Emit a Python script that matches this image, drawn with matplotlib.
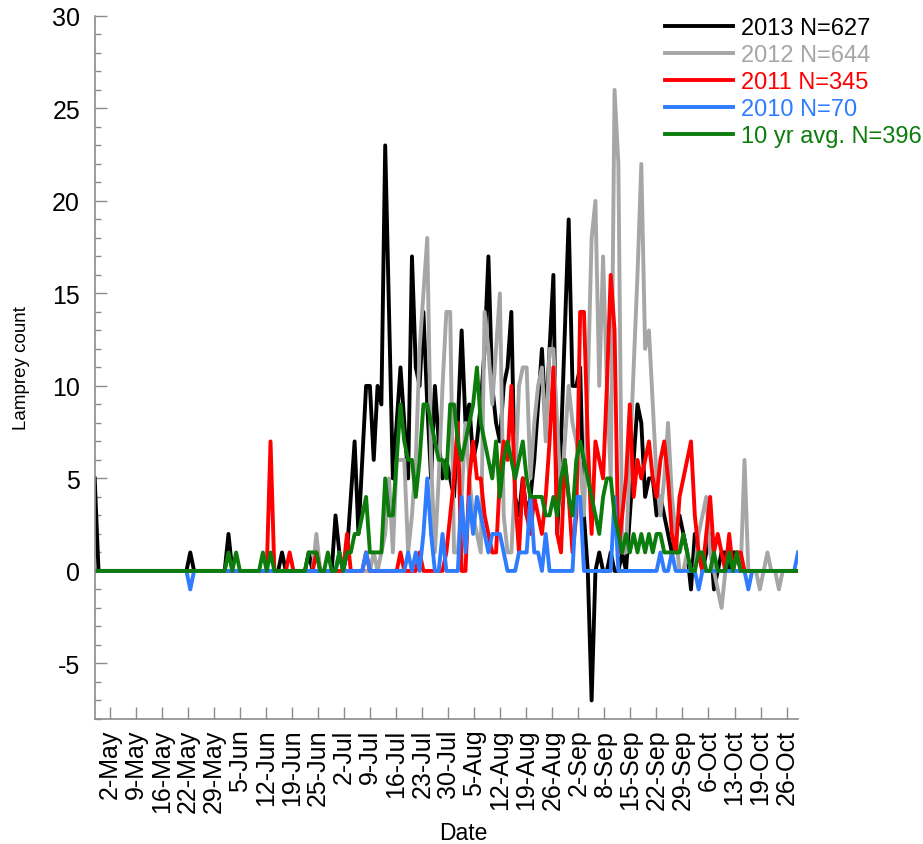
import numpy as np
import matplotlib.pyplot as plt
from matplotlib.ticker import MultipleLocator

plt.rcParams['font.family'] = ['Liberation Sans', 'DejaVu Sans']
plt.rcParams['axes.unicode_minus'] = False

# daily lamprey counts, one value per day starting 28 April
count_2013 = [
    5, 0, 0, 0, 0, 0, 0, 0, 0, 0,
    0, 0, 0, 0, 0, 0, 0, 0, 0, 0,
    0, 0, 0, 0, 0, 1, 0, 0, 0, 0,
    0, 0, 0, 0, 0, 2, 0, 0, 0, 0,
    0, 0, 0, 0, 0, 0, 0, 0, 0, 1,
    0, 0, 0, 0, 0, 0, 1, 0, 0, 0,
    0, 0, 0, 3, 1, 0, 1, 4, 7, 2,
    6, 10, 10, 6, 10, 9, 23, 14, 5, 8,
    11, 8, 5, 17, 11, 10, 14, 9, 5, 10,
    7, 5, 6, 5, 4, 8, 13, 8, 9, 6,
    7, 9, 12, 17, 10, 8, 7, 10, 11, 14,
    4, 3, 5, 3, 4, 6, 9, 12, 8, 12,
    16, 2, 7, 13, 19, 10, 10, 11, 3, 0,
    -7, 0, 1, 0, 0, 1, 0, 0, 1, 0,
    3, 6, 9, 8, 4, 5, 5, 3, 4, 3,
    2, 1, 2, 3, 2, 1, -1, 2, 1, 0,
    1, 2, -1, 0, 1, 1, 0, 1, 1, 0,
    0, 0, 0, 0, 0, 0, 0, 0, 0, 0,
    0, 0, 0, 0, 0]

count_2012 = [
    0, 0, 0, 0, 0, 0, 0, 0, 0, 0,
    0, 0, 0, 0, 0, 0, 0, 0, 0, 0,
    0, 0, 0, 0, 0, 0, 0, 0, 0, 0,
    0, 0, 0, 0, 0, 0, 0, 0, 0, 0,
    0, 0, 0, 0, 0, 0, 0, 0, 0, 0,
    0, 0, 0, 0, 0, 0, 0, 0, 2, 0,
    0, 0, 0, 0, 0, 0, 0, 0, 0, 0,
    0, 0, 0, 1, 0, 1, 2, 5, 1, 6,
    6, 6, 1, 3, 6, 12, 15, 18, 6, 1,
    5, 10, 14, 14, 1, 1, 4, 8, 5, 3,
    2, 1, 14, 12, 9, 12, 15, 3, 1, 1,
    5, 10, 11, 11, 5, 8, 10, 11, 7, 12,
    12, 8, 4, 7, 10, 8, 7, 6, 3, 10,
    18, 20, 10, 17, 10, 5, 26, 22, 1, 1,
    6, 11, 16, 22, 12, 13, 9, 5, 3, 5,
    8, 4, 2, 0, 0, 1, 0, 0, 2, 3,
    4, 1, 0, -1, -2, 0, 0, 0, 0, 0,
    6, 0, 0, 0, -1, 0, 1, 0, 0, -1,
    0, 0, 0, 0, 0]

count_2011 = [
    0, 0, 0, 0, 0, 0, 0, 0, 0, 0,
    0, 0, 0, 0, 0, 0, 0, 0, 0, 0,
    0, 0, 0, 0, 0, 0, 0, 0, 0, 0,
    0, 0, 0, 0, 0, 0, 0, 0, 0, 0,
    0, 0, 0, 0, 0, 0, 7, 0, 0, 0,
    0, 1, 0, 0, 0, 0, 0, 0, 1, 0,
    0, 0, 0, 0, 0, 0, 2, 0, 0, 0,
    0, 1, 0, 0, 0, 0, 0, 0, 0, 0,
    1, 0, 0, 0, 0, 1, 0, 0, 0, 0,
    0, 0, 1, 3, 5, 8, 0, 0, 5, 7,
    5, 5, 3, 2, 1, 1, 5, 7, 6, 10,
    4, 1, 5, 3, 2, 4, 3, 2, 4, 7,
    11, 2, 1, 6, 4, 1, 3, 14, 14, 7,
    2, 7, 6, 5, 10, 16, 13, 1, 3, 5,
    9, 4, 6, 5, 6, 7, 5, 4, 6, 7,
    5, 2, 1, 4, 5, 6, 7, 3, 1, 0,
    2, 4, 1, 2, 1, 0, 2, 0, 1, 1,
    0, 0, 0, 0, 0, 0, 0, 0, 0, 0,
    0, 0, 0, 0, 0]

count_2010 = [
    0, 0, 0, 0, 0, 0, 0, 0, 0, 0,
    0, 0, 0, 0, 0, 0, 0, 0, 0, 0,
    0, 0, 0, 0, 0, -1, 0, 0, 0, 0,
    0, 0, 0, 0, 0, 0, 0, 0, 0, 0,
    0, 0, 0, 0, 0, 0, 0, 0, 0, 0,
    0, 0, 0, 0, 0, 0, 0, 0, 0, 0,
    0, 0, 0, 0, 1, 0, 0, 0, 0, 0,
    0, 1, 0, 0, 0, 0, 0, 0, 0, 0,
    0, 0, 1, 0, 1, 0, 2, 5, 2, 0,
    0, 2, 0, 0, 0, 0, 4, 1, 4, 2,
    4, 3, 2, 1, 2, 2, 2, 1, 0, 0,
    0, 1, 1, 1, 4, 1, 1, 0, 2, 0,
    0, 0, 0, 0, 0, 0, 4, 4, 0, 0,
    0, 0, 0, 0, 0, 0, 4, 0, 0, 0,
    0, 0, 0, 0, 0, 0, 0, 0, 1, 0,
    0, 1, 0, 0, 0, 0, 0, 0, -1, 0,
    0, 0, 0, 0, 0, 0, 0, 0, 0, 0,
    0, -1, 0, 0, 0, 0, 0, 0, 0, 0,
    0, 0, 0, 0, 1]

count_avg = [
    0, 0, 0, 0, 0, 0, 0, 0, 0, 0,
    0, 0, 0, 0, 0, 0, 0, 0, 0, 0,
    0, 0, 0, 0, 0, 0, 0, 0, 0, 0,
    0, 0, 0, 0, 0, 1, 0, 1, 0, 0,
    0, 0, 0, 0, 1, 0, 1, 0, 0, 0,
    0, 0, 0, 0, 0, 0, 1, 1, 1, 0,
    0, 1, 0, 0, 1, 0, 1, 1, 2, 2,
    3, 4, 1, 1, 1, 1, 5, 3, 3, 6,
    9, 7, 6, 6, 4, 6, 9, 9, 8, 7,
    6, 6, 5, 9, 9, 7, 6, 7, 8, 9,
    11, 8, 7, 6, 5, 7, 4, 6, 7, 6,
    5, 6, 7, 5, 4, 4, 4, 4, 3, 3,
    4, 3, 5, 6, 4, 3, 6, 7, 6, 5,
    4, 3, 2, 4, 5, 5, 3, 2, 1, 2,
    1, 2, 1, 2, 1, 2, 1, 2, 2, 1,
    1, 1, 1, 1, 2, 1, 0, 0, 1, 1,
    0, 0, 1, 0, 0, 0, 1, 0, 1, 0,
    0, 0, 0, 0, 0, 0, 0, 0, 0, 0,
    0, 0, 0, 0, 0]

date_labels = ['2-May', '9-May', '16-May', '22-May', '29-May', '5-Jun', '12-Jun',
               '19-Jun', '25-Jun', '2-Jul', '9-Jul', '16-Jul', '23-Jul', '30-Jul',
               '5-Aug', '12-Aug', '19-Aug', '26-Aug', '2-Sep', '8-Sep', '15-Sep',
               '22-Sep', '29-Sep', '6-Oct', '13-Oct', '19-Oct', '26-Oct']

series_names = ['2013 N=627', '2012 N=644', '2011 N=345', '2010 N=70', '10 yr avg. N=396']
series_colors = ['#000000', '#a6a6a6', '#ff0000', '#2f7cff', '#0c7c0c']

series = [count_2013, count_2012, count_2011, count_2010, count_avg]
days = np.arange(len(count_2013))

fig = plt.figure(figsize=(9.23, 8.45), dpi=100)
ax = fig.add_axes([0.1026, 0.148, 0.762, 0.832])

for vals, name, col in zip(series, series_names, series_colors):
    ax.plot(days, vals, color=col, lw=2.8, label=name)

ax.set_xlim(0, days[-1])
ax.set_ylim(-8, 30)

# tick marks sit at equal steps between 2 May and 26 Oct
ax.set_xticks(np.linspace(4, 181, len(date_labels)))
ax.set_xticklabels(date_labels, rotation=90)
ax.yaxis.set_major_locator(MultipleLocator(5))
ax.yaxis.set_minor_locator(MultipleLocator(1))

for side in ['top', 'right']:
    ax.spines[side].set_visible(False)
for side in ['left', 'bottom']:
    ax.spines[side].set_color('#8c8c8c')
    ax.spines[side].set_linewidth(1.2)

ax.tick_params(axis='both', which='major', direction='in', length=8.5, width=1,
               color='#8c8c8c', labelsize=18)
ax.tick_params(axis='y', which='major', pad=10.5)
ax.tick_params(axis='x', which='major', pad=7)
ax.tick_params(axis='y', which='minor', direction='in', length=4.3, width=1,
               color='#8c8c8c')

ax.set_ylabel('Lamprey count', fontsize=13.5)
ax.yaxis.set_label_coords(-0.092, 0.5)
ax.set_xlabel('Date', fontsize=16.5)
ax.xaxis.set_label_coords(0.524, -0.145)

ax.legend(loc='upper left', bbox_to_anchor=(665 / 923, 1 - 18 / 845),
          bbox_transform=fig.transFigure, frameon=False, fontsize=17,
          handlelength=2.9, handletextpad=0.3, labelspacing=0.21,
          borderpad=0, borderaxespad=0, labelcolor='linecolor')

fig.savefig('out.png', dpi=100)
